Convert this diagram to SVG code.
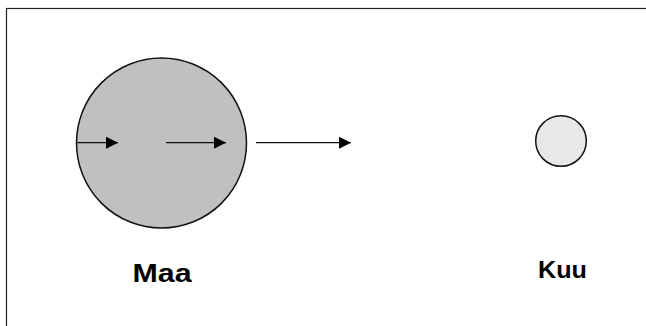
<svg xmlns="http://www.w3.org/2000/svg" width="646" height="326" viewBox="0 0 646 326">
  <style>
    .frame { fill: none; stroke: #222; stroke-width: 1.2; }
    .body { stroke: #111; stroke-width: 1.5; }
    .conn { stroke: #111; stroke-width: 1.2; fill: none; }
    .label { font-family: "Liberation Sans", Arial, sans-serif; font-weight: bold; fill: #000; }
  </style>
  <defs>
    <marker id="head" viewBox="0 0 12 12" refX="12" refY="6" markerWidth="12" markerHeight="12" markerUnits="userSpaceOnUse" orient="auto">
      <path d="M0,0 L12,6 L0,12 Z" fill="#000"/>
    </marker>
  </defs>
  <rect width="646" height="326" fill="#fff"/>
  <rect class="frame" x="6.5" y="8.5" width="650" height="330"/>

  <g id="maa">
    <circle class="body" cx="161.5" cy="143" r="85" fill="#c0c0c0"/>
    <text class="label" x="132.5" y="282" font-size="25" textLength="59" lengthAdjust="spacingAndGlyphs">Maa</text>
  </g>

  <g id="kuu">
    <circle class="body" cx="561" cy="141" r="25.3" fill="#e8e8e8"/>
    <text class="label" x="538" y="278" font-size="23" textLength="49" lengthAdjust="spacingAndGlyphs">Kuu</text>
  </g>

  <g id="connectors">
    <line class="conn" x1="76" y1="142.7" x2="118" y2="142.7" marker-end="url(#head)"/>
    <line class="conn" x1="166" y1="142.7" x2="226" y2="142.7" marker-end="url(#head)"/>
    <line class="conn" x1="256" y1="142.7" x2="351" y2="142.7" marker-end="url(#head)"/>
  </g>
</svg>
